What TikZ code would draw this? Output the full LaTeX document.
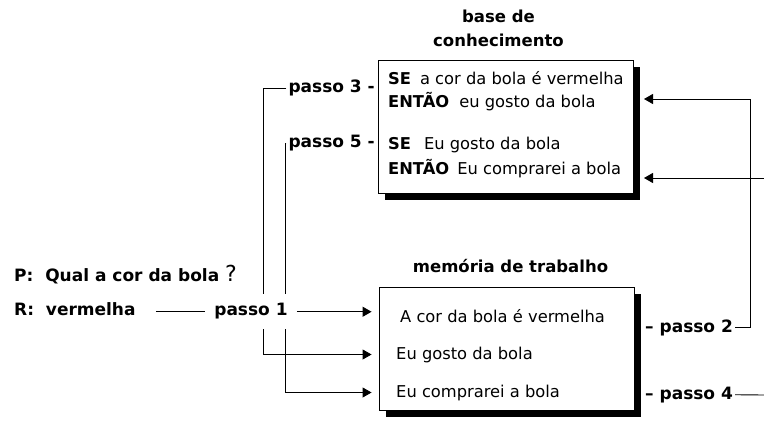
\documentclass[tikz,border=0pt]{standalone}
\usepackage{fontspec}
\setmainfont{DejaVu Sans}
\usetikzlibrary{arrows.meta,positioning,shadows}

\begin{document}
\begin{tikzpicture}[
  x=1pt, y=-1pt,
  font=\fontsize{16.3}{23}\selectfont,
  box/.style={draw, fill=white, line width=0.9pt, minimum width=255pt,
    drop shadow={shadow xshift=7pt, shadow yshift=-7pt, fill=black, opacity=1}},
  ttl/.style={font=\fontsize{16.5}{24}\selectfont\bfseries, align=center, inner sep=0pt},
  txt/.style={inner sep=0pt, anchor=base west},
  lbl/.style={font=\fontsize{17}{23}\selectfont\bfseries, inner sep=2pt, text height=12pt, text depth=3.5pt},
  ln/.style={line width=0.9pt},
  arr/.style={-{Triangle[length=9pt,width=10pt]}, line width=0.9pt}
]

\useasboundingbox (0,0) rectangle (764,425);

\node[box, minimum height=133pt] (kb) at (505.5,126.5) {};
\node[ttl, above=13pt of kb, xshift=-7pt] (kbt) {base de\\conhecimento};

\node[txt] (r1a) at (388,85) {\textbf{SE}\hspace{9pt}a cor da bola é vermelha};
\node[txt] (r1b) at (388,108) {\textbf{ENTÃO}\hspace{10pt}eu gosto da bola};
\node[txt] (r2a) at (388,150) {\textbf{SE}\hspace{13pt}Eu gosto da bola};
\node[txt] (r2b) at (388,175) {\textbf{ENTÃO}\hspace{8pt}Eu comprarei a bola};

\node[box, minimum height=123pt] (wm) at (506.5,348.5) {};
\node[ttl, above=14pt of wm, xshift=4pt] (wmt) {memória de trabalho};

\node[txt] (m1) at (400,323) {A cor da bola é vermelha};
\node[txt] (m2) at (396,359) {Eu gosto da bola};
\node[txt] (m3) at (396,397) {Eu comprarei a bola};

\node[lbl, anchor=base west] (pq) at (12,282) {P:\ \ Qual a cor da bola\ {\mdseries\fontsize{22}{22}\selectfont ?}};
\node[lbl, anchor=base west] (rv) at (12,316) {R:\ \ vermelha};
\node[lbl, anchor=base, inner xsep=9pt, minimum height=35pt] (p1) at (251,316) {passo 1};
\node[lbl, anchor=base east] (p3) at (377,93) {passo 3 -};
\node[lbl, anchor=base east] (p5) at (377,148) {passo 5 -};
\node[lbl, anchor=base west] (p2) at (643,332) {– passo 2};
\node[lbl, anchor=base west] (p4) at (643,399) {– passo 4};

\coordinate (c3) at (263,88);
\coordinate (c5) at (285,143);
\coordinate (c2) at (750,99);
\coordinate (ax) at ([xshift=-7pt]wm.west);
\coordinate (kbin1) at (644,99);
\coordinate (kbin2) at (644,178);
\coordinate (e5) at (764,178);
\coordinate (e4) at (764,395);

\draw[ln] ([xshift=18pt]rv.east) -- (p1.west);
\draw[arr] (p1.east) -- (p1.east -| ax);
\draw[ln] (p3.west) -| (p1.north -| c3);
\draw[arr] (p1.south -| c3) |- (m2.west -| ax);
\draw[ln] (p5.west) -| (p1.north -| c5);
\draw[arr] (p1.south -| c5) |- (m3.west -| ax);
\draw[arr] (p2.east) -| (c2) -- (kbin1);
\draw[ln] (p4.east) -- (e4);
\draw[arr] (e5) -- (kbin2);

\end{tikzpicture}
\end{document}
